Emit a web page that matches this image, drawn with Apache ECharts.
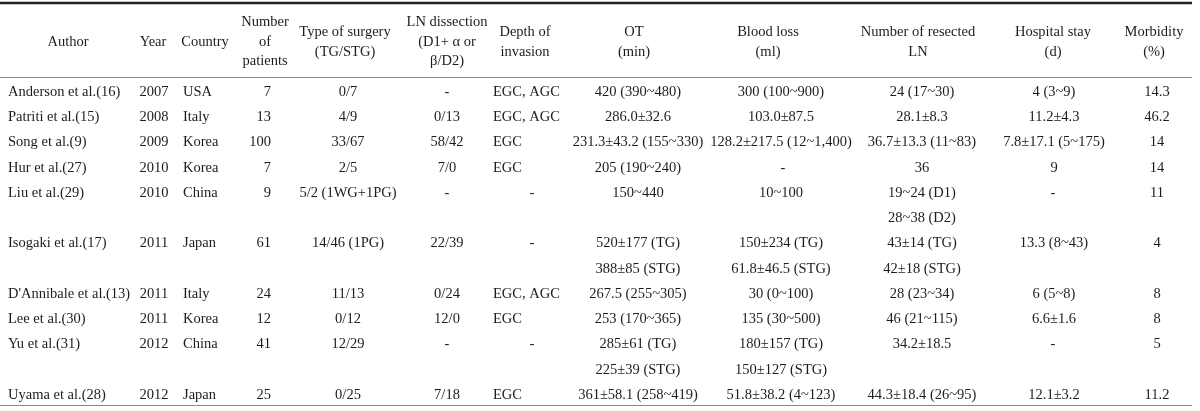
<!DOCTYPE html>
<html>
<head>
<meta charset="utf-8">
<script src="https://cdn.jsdelivr.net/npm/echarts@6/dist/echarts.min.js"></script>
<style>
  html, body { margin: 0; padding: 0; background: #ffffff; }
  #chart { width: 1200px; height: 411px; }
</style>
</head>
<body>
<div id="chart"></div>
<script>
// ---------- DATA ----------
const headers = [
  "Author", "Year", "Country", "Number\nof\npatients", "Type of surgery\n(TG/STG)",
  "LN dissection\n(D1+ \u03b1 or\n\u03b2/D2)", "Depth of\ninvasion", "OT\n(min)", "Blood loss\n(ml)",
  "Number of resected\nLN", "Hospital stay\n(d)", "Morbidity\n(%)"
];
const authors = ["Anderson et al.(16)", "Patriti et al.(15)", "Song et al.(9)", "Hur et al.(27)", "Liu et al.(29)",
  "Isogaki et al.(17)", "D'Annibale et al.(13)", "Lee et al.(30)", "Yu et al.(31)", "Uyama et al.(28)"];
const years = ["2007", "2008", "2009", "2010", "2010", "2011", "2011", "2011", "2012", "2012"];
const countries = ["USA", "Italy", "Korea", "Korea", "China", "Japan", "Italy", "Korea", "China", "Japan"];
const patients = ["7", "13", "100", "7", "9", "61", "24", "12", "41", "25"];
const surgeryType = ["0/7", "4/9", "33/67", "2/5", "5/2 (1WG+1PG)", "14/46 (1PG)", "11/13", "0/12", "12/29", "0/25"];
const lnDissection = ["-", "0/13", "58/42", "7/0", "-", "22/39", "0/24", "12/0", "-", "7/18"];
const depthOfInvasion = ["EGC, AGC", "EGC, AGC", "EGC", "EGC", "-", "-", "EGC, AGC", "EGC", "-", "EGC"];
const operationTime = ["420 (390~480)", "286.0\u00b132.6", "231.3\u00b143.2 (155~330)", "205 (190~240)", "150~440",
  ["520\u00b1177 (TG)", "388\u00b185 (STG)"], "267.5 (255~305)", "253 (170~365)",
  ["285\u00b161 (TG)", "225\u00b139 (STG)"], "361\u00b158.1 (258~419)"];
const bloodLoss = ["300 (100~900)", "103.0\u00b187.5", "128.2\u00b1217.5 (12~1,400)", "-", "10~100",
  ["150\u00b1234 (TG)", "61.8\u00b146.5 (STG)"], "30 (0~100)", "135 (30~500)",
  ["180\u00b1157 (TG)", "150\u00b1127 (STG)"], "51.8\u00b138.2 (4~123)"];
const resectedLN = ["24 (17~30)", "28.1\u00b18.3", "36.7\u00b113.3 (11~83)", "36", ["19~24 (D1)", "28~38 (D2)"],
  ["43\u00b114 (TG)", "42\u00b118 (STG)"], "28 (23~34)", "46 (21~115)", "34.2\u00b118.5", "44.3\u00b118.4 (26~95)"];
const hospitalStay = ["4 (3~9)", "11.2\u00b14.3", "7.8\u00b117.1 (5~175)", "9", "-", "13.3 (8~43)", "6 (5~8)",
  "6.6\u00b11.6", "-", "12.1\u00b13.2"];
const morbidity = ["14.3", "46.2", "14", "14", "11", "4", "8", "8", "5", "11.2"];

// ---------- LAYOUT (positions / styles, separate from data) ----------
const columns = [authors, years, countries, patients, surgeryType, lnDissection, depthOfInvasion,
  operationTime, bloodLoss, resectedLN, hospitalStay, morbidity];
const colLayout = [
  { x: 8,    align: 'left',   hx: 68 },
  { x: 154,  align: 'center', hx: 153 },
  { x: 183,  align: 'left',   hx: 205 },
  { x: 271,  align: 'right',  hx: 265 },
  { x: 348,  align: 'center', hx: 345 },
  { x: 447,  align: 'center', hx: 447 },
  { x: 493,  align: 'left',   hx: 525, dashX: 532 },
  { x: 638,  align: 'center', hx: 634 },
  { x: 781,  align: 'center', hx: 768, dashX: 783 },
  { x: 922,  align: 'center', hx: 918 },
  { x: 1054, align: 'center', hx: 1053 },
  { x: 1157, align: 'center', hx: 1154 }
];
const FONT_FAMILY = '"Liberation Serif", "DejaVu Serif", serif';
const FONT_SIZE = 14.5;
const TEXT_COLOR = '#1f1b1c';

// ---------- BUILD CELL LIST ----------
const cells = [];   // [x, lineIndex, colIndex, text]
let line = 0;
for (let r = 0; r < authors.length; r++) {
  let maxLines = 1;
  columns.forEach((col, c) => {
    const v = col[r];
    const parts = Array.isArray(v) ? v : [v];
    maxLines = Math.max(maxLines, parts.length);
    parts.forEach((t, k) => {
      const lay = colLayout[c];
      const x = (t === '-') ? (lay.dashX !== undefined ? lay.dashX : lay.hx) : lay.x;
      cells.push([x, line + k, c, t]);
    });
  });
  line += maxLines;
}
const totalLines = line;

const chart = echarts.init(document.getElementById('chart'), null, { renderer: 'canvas' });

const headerGraphics = headers.map((h, c) => ({
  type: 'text',
  x: colLayout[c].hx,
  y: 42,
  style: {
    text: h,
    fontFamily: FONT_FAMILY,
    fontSize: FONT_SIZE,
    fill: TEXT_COLOR,
    align: 'center',
    verticalAlign: 'middle',
    lineHeight: 19.5
  }
}));

const option = {
  animation: false,
  backgroundColor: '#ffffff',
  grid: { left: 0, right: 0, top: 92, height: 25.25 * (totalLines - 1), containLabel: false },
  xAxis: { type: 'value', min: 0, max: 1200, show: false },
  yAxis: { type: 'value', min: 0, max: totalLines - 1, inverse: true, show: false },
  graphic: [
    { type: 'line', shape: { x1: 0, y1: 3, x2: 1192, y2: 3 }, style: { stroke: '#231f20', lineWidth: 2.6 } },
    { type: 'line', shape: { x1: 0, y1: 77.5, x2: 1192, y2: 77.5 }, style: { stroke: '#8a8a8a', lineWidth: 1 } },
    { type: 'line', shape: { x1: 0, y1: 405.5, x2: 1192, y2: 405.5 }, style: { stroke: '#8a8a8a', lineWidth: 1 } }
  ].concat(headerGraphics),
  series: [{
    type: 'custom',
    coordinateSystem: 'cartesian2d',
    encode: { x: 0, y: 1 },
    data: cells,
    silent: true,
    renderItem: function (params, api) {
      const p = api.coord([api.value(0), api.value(1)]);
      const c = api.value(2);
      const t = cells[params.dataIndex][3];
      const align = (t === '-') ? 'center' : colLayout[c].align;
      return {
        type: 'text',
        x: p[0],
        y: p[1],
        style: {
          text: t,
          fontFamily: FONT_FAMILY,
          fontSize: FONT_SIZE,
          fill: TEXT_COLOR,
          align: align,
          verticalAlign: 'middle'
        }
      };
    }
  }]
};
chart.setOption(option);
</script>
</body>
</html>
